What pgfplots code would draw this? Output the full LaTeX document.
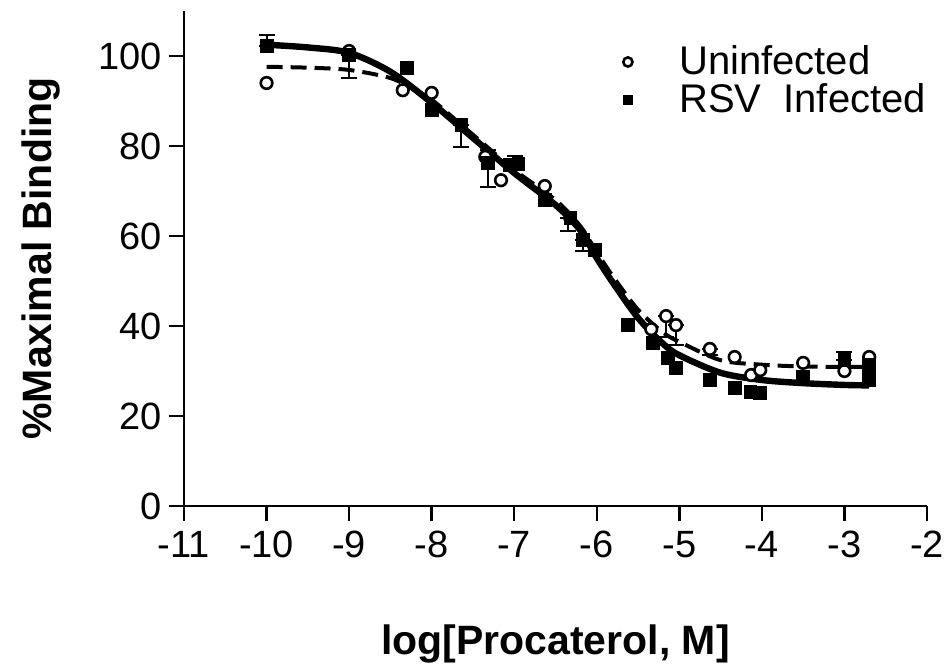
\documentclass[border=0pt]{standalone}
\usepackage{pgfplots}
\pgfplotsset{compat=1.18}
\usepackage{fontspec}
\setmainfont{Liberation Sans}
\begin{document}
\begin{tikzpicture}
\useasboundingbox (-92pt,-80.5pt) rectangle (384pt,253pt);
\begin{axis}[
  scale only axis, width=371.5pt, height=247.5pt,
  xmin=-11, xmax=-2, ymin=0, ymax=110,
  axis lines=left,
  axis line style={line width=1.2pt, -},
  xtick={-11,-10,-9,-8,-7,-6,-5,-4,-3,-2},
  xticklabels={-11,-10,-9,-8,-7,-6,-5,-4,-3,-2},
  ytick={0,20,40,60,80,100},
  yticklabels={0,20,40,60,80,100},
  tick align=outside, major tick length=7.5pt,
  tick style={line width=1.2pt, black},
  tick label style={font=\fontsize{19}{22}\selectfont},
  xticklabel style={yshift=-1.5pt},
  xlabel={log[Procaterol, M]},
  ylabel={\%Maximal Binding},
  xlabel style={font=\fontsize{20.5}{24}\selectfont\bfseries, at={(axis description cs:0.5,-0.301)}, anchor=base},
  ylabel style={font=\fontsize{20.5}{24}\selectfont\bfseries, at={(axis description cs:-0.178,0.5)}, anchor=base, rotate=0},
  clip=false,
  legend style={draw=none, fill=none, at={(axis cs:-5.80,103.2)}, anchor=north west,
    font=\fontsize{20}{23}\selectfont, row sep=-1pt, inner sep=0pt},
  legend cell align=left,
  legend image code/.code={%
    \path[draw=none, fill=none] (0cm,-0.1cm) rectangle (1.08cm,0.1cm);
    \draw[mark repeat=2,mark phase=2,#1, mark size=2.3pt] plot coordinates {(0cm,0cm) (0.25cm,0cm) (0.5cm,0cm)};},
]
% fitted curves
\addplot[forget plot, black, line width=2pt, dash pattern=on 8pt off 4pt, smooth, tension=0.5] coordinates {
(-10,97.6) (-9.5,97.4) (-9,96.9) (-8.5,95.1) (-8.2,92.4) (-8,90.3) (-7.5,82.5) (-7,74.7) (-6.5,68.0) (-6.2,62.2) (-6,56.4) (-5.8,50.9) (-5.5,43.6) (-5.2,38.6) (-5,36.5) (-4.5,32.4) (-4,31.4) (-3.5,31.0) (-3,30.9) (-2.7,30.9)};
\addplot[forget plot, black, line width=3.2pt, smooth, tension=0.5] coordinates {
(-10,102.5) (-9.5,101.9) (-9,100.7) (-8.5,96.5) (-8,89.6) (-7.5,81.8) (-7,74.0) (-6.5,66.9) (-6.2,61.3) (-6,55.1) (-5.8,49.5) (-5.5,41.8) (-5.2,36.1) (-5,33.5) (-4.5,29.6) (-4,28.0) (-3.5,27.3) (-3,26.9) (-2.7,26.8)};
% error bars
\addplot[forget plot, black, only marks, mark=none, line width=1pt,
  error bars/.cd, y dir=both, y explicit, error bar style={line width=1pt},
  error mark options={rotate=90, mark size=4pt, line width=1pt}]
  table[x=x, y=y, y error plus=p, y error minus=m] {
x y p m
-10 102.2 2.5 0
-9 100.2 0 5
-7.64 84.7 0 4.9
-7.32 76.2 3 5.4
-6.99 76.0 1.8 0
-6.35 64.0 0 3
-6.17 59.1 0 2.5
-5.16 42.2 0 4.7
-5.04 40.2 0 4.5
-4.63 34.9 0 1.4
-3.0 32.5 1.8 0
};
% data
\addplot[black, only marks, mark=*, mark size=2.9pt, mark options={fill=white, line width=1.3pt}] coordinates {
(-10,94.0) (-9,101.1) (-8.35,92.4) (-8,91.8) (-7.35,77.6) (-7.16,72.4) (-6.63,71.1)
(-5.34,39.3) (-5.16,42.2) (-5.04,40.2) (-4.63,34.9) (-4.33,33.1) (-4.13,29.1) (-4.02,30.2)
(-3.5,31.8) (-3.0,30.0) (-2.7,33.1)};
\addlegendentry{Uninfected}
\addplot[black, only marks, mark=square*, mark size=3.2pt, mark options={line width=0.4pt}] coordinates {
(-10,102.2) (-9,100.2) (-8.3,97.3) (-8,88.0) (-7.64,84.7) (-7.32,76.2) (-7.05,75.8) (-6.95,76.0)
(-6.63,68.0) (-6.32,64.0) (-6.17,59.1) (-6.02,56.9) (-5.62,40.2) (-5.32,36.2) (-5.14,32.9) (-5.04,30.7)
(-4.63,28.0) (-4.33,26.2) (-4.14,25.3) (-4.02,25.1) (-3.5,28.7) (-3.0,32.5) (-2.7,28.0) (-2.7,29.8) (-2.7,31.3)};
\addlegendentry{RSV\ \ Infected}
\end{axis}
\end{tikzpicture}
\end{document}
